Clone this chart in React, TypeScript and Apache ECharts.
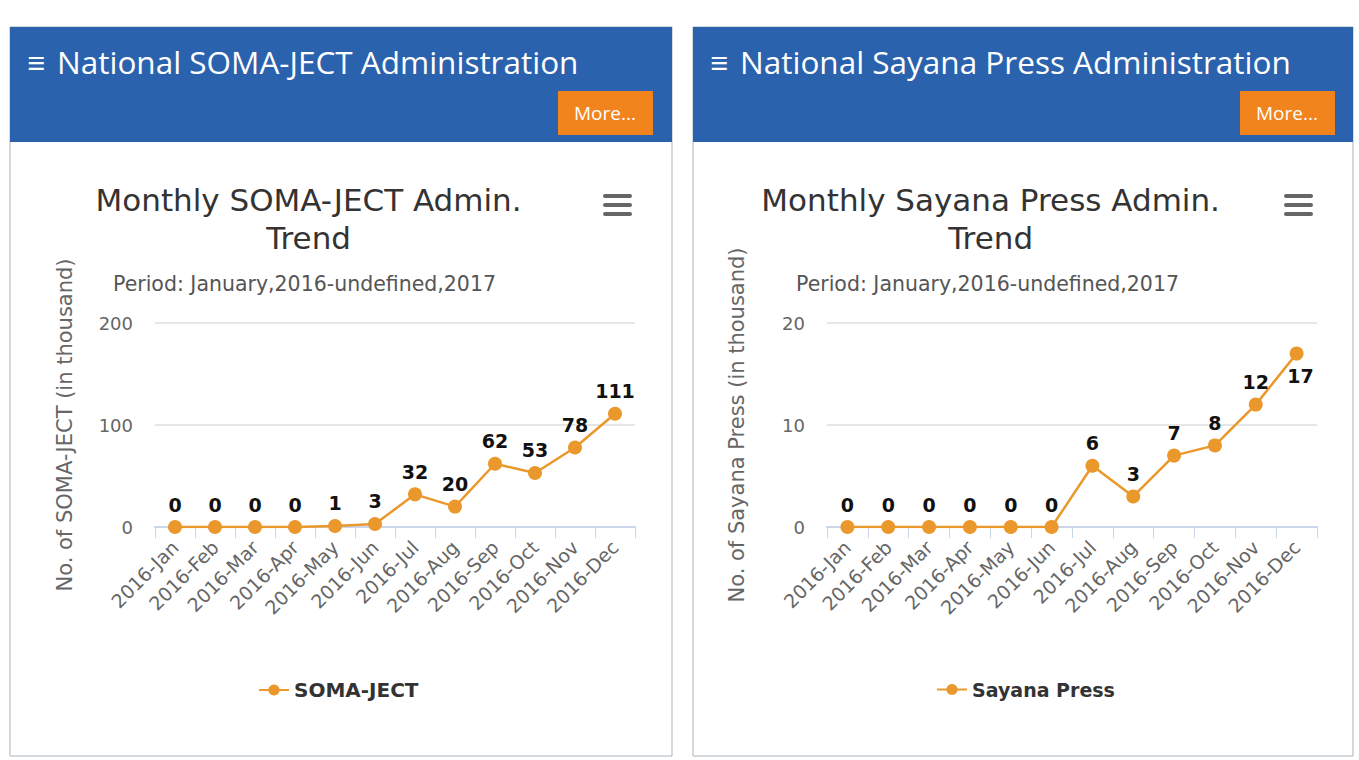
import React, { useEffect, useRef } from "react";
import * as echarts from "echarts";

const months = ["2016-Jan", "2016-Feb", "2016-Mar", "2016-Apr", "2016-May", "2016-Jun", "2016-Jul", "2016-Aug", "2016-Sep", "2016-Oct", "2016-Nov", "2016-Dec"];
const somaJect = [0, 0, 0, 0, 1, 3, 32, 20, 62, 53, 78, 111];
const sayanaPress = [0, 0, 0, 0, 0, 0, 6, 3, 7, 8, 12, 17];
const somaTicks = { min: 0, max: 200, interval: 100 };
const sayanaTicks = { min: 0, max: 20, interval: 10 };

const LINE = "#ea982c";
const BLUE = "#2b62ad";
const ORANGE = "#f1841c";
const CHART_FONT = "DejaVu Sans";
const HEAD_FONT = "Open Sans";

function panelGraphics(x0: number, x1: number, header: string, title1: string, btnX: number) {
  const titleCx = x0 + (x1 - x0) * 0.451;
  return [
    { type: "rect", shape: { x: x0, y: 27, width: x1 - x0, height: 729 }, style: { fill: "#fff", stroke: "#a9b3bd", lineWidth: 1 }, z: 0 },
    { type: "rect", shape: { x: x0, y: 27, width: x1 - x0, height: 115 }, style: { fill: BLUE }, z: 1 },
    { type: "text", x: x0 + 17, y: 61, style: { text: "≡", font: `600 32px "${HEAD_FONT}"`, fill: "#fff", textVerticalAlign: "middle" }, z: 2 },
    { type: "text", x: x0 + 47, y: 61, style: { text: header, font: `31.5px "${HEAD_FONT}"`, fill: "#fff", textVerticalAlign: "middle" }, z: 2 },
    { type: "rect", shape: { x: btnX, y: 91, width: 95, height: 44 }, style: { fill: ORANGE }, z: 2 },
    { type: "text", x: btnX + 47, y: 113, style: { text: "More...", font: `19px "${HEAD_FONT}"`, fill: "#fff", textAlign: "center", textVerticalAlign: "middle" }, z: 3 },
    { type: "text", x: titleCx, y: 200, style: { text: title1, font: `31px "${CHART_FONT}"`, fill: "#333", textAlign: "center", textVerticalAlign: "middle" }, z: 2 },
    { type: "text", x: titleCx, y: 238, style: { text: "Trend", font: `31px "${CHART_FONT}"`, fill: "#333", textAlign: "center", textVerticalAlign: "middle" }, z: 2 },
    { type: "text", x: x0 + 103, y: 284, style: { text: "Period: January,2016-undefined,2017", font: `20.5px "${CHART_FONT}"`, fill: "#555", textVerticalAlign: "middle" }, z: 2 },
    { type: "rect", shape: { x: x1 - 69, y: 194, width: 29, height: 4, r: 2 }, style: { fill: "#666" }, z: 2 },
    { type: "rect", shape: { x: x1 - 69, y: 203, width: 29, height: 4, r: 2 }, style: { fill: "#666" }, z: 2 },
    { type: "rect", shape: { x: x1 - 69, y: 212, width: 29, height: 4, r: 2 }, style: { fill: "#666" }, z: 2 },
  ];
}

function xAxisCfg(gridIndex: number) {
  return {
    type: "category",
    gridIndex,
    data: months,
    boundaryGap: true,
    axisLine: { lineStyle: { color: "#ccd6eb", width: 2 } },
    axisTick: { show: true, length: 11, lineStyle: { color: "#ccd6eb" } },
    axisLabel: { rotate: 45, fontSize: 19, color: "#666", fontFamily: CHART_FONT, margin: 17, interval: 0 },
  };
}

function yAxisCfg(gridIndex: number, name: string, t: { min: number; max: number; interval: number }) {
  return {
    type: "value",
    gridIndex,
    min: t.min,
    max: t.max,
    interval: t.interval,
    name,
    nameLocation: "middle",
    nameGap: 80,
    nameTextStyle: { fontSize: 21, color: "#666", fontFamily: CHART_FONT },
    axisLine: { show: false },
    axisTick: { show: false },
    axisLabel: { fontSize: 18, color: "#666", fontFamily: CHART_FONT, margin: 22 },
    splitLine: { lineStyle: { color: "#e6e6e6", width: 2 } },
  };
}

function seriesCfg(name: string, values: number[], idx: number, bottomLast: boolean) {
  return {
    type: "line",
    name,
    xAxisIndex: idx,
    yAxisIndex: idx,
    data: values.map((v, i) =>
      bottomLast && i === values.length - 1
        ? { value: v, label: { position: "bottom", offset: [4, 0] } }
        : v
    ),
    symbol: "circle",
    symbolSize: 14,
    lineStyle: { color: LINE, width: 2.5 },
    itemStyle: { color: LINE },
    label: { show: true, position: "top", distance: 6, fontSize: 19, fontWeight: "bold", color: "#111", fontFamily: CHART_FONT },
  };
}

export default function App() {
  const ref = useRef<HTMLDivElement>(null);
  useEffect(() => {
    if (!ref.current) return;
    const chart = echarts.init(ref.current, undefined, { renderer: "svg" });
    chart.setOption({
      animation: false,
      backgroundColor: "#fff",
      graphic: [
        ...panelGraphics(10, 672, "National SOMA-JECT Administration", "Monthly SOMA-JECT Admin.", 558),
        ...panelGraphics(693, 1353, "National Sayana Press Administration", "Monthly Sayana Press Admin.", 1240),
      ],
      grid: [
        { left: 155, top: 323, width: 480, height: 204 },
        { left: 827, top: 323, width: 490, height: 204 },
      ],
      xAxis: [xAxisCfg(0), xAxisCfg(1)],
      yAxis: [
        yAxisCfg(0, "No. of SOMA-JECT (in thousand)", somaTicks),
        yAxisCfg(1, "No. of Sayana Press (in thousand)", sayanaTicks),
      ],
      legend: [
        { data: ["SOMA-JECT"], left: 253, top: 675, itemWidth: 30, itemHeight: 14, textStyle: { fontSize: 20, fontWeight: "bold", color: "#333", fontFamily: CHART_FONT } },
        { data: ["Sayana Press"], left: 931, top: 675, itemWidth: 30, itemHeight: 14, textStyle: { fontSize: 19, fontWeight: "bold", color: "#333", fontFamily: CHART_FONT } },
      ],
      series: [
        seriesCfg("SOMA-JECT", somaJect, 0, false),
        seriesCfg("Sayana Press", sayanaPress, 1, true),
      ],
    });
    return () => chart.dispose();
  }, []);
  return <div ref={ref} style={{ position: "absolute", left: 0, top: 0, width: 1359, height: 760 }} />;
}
